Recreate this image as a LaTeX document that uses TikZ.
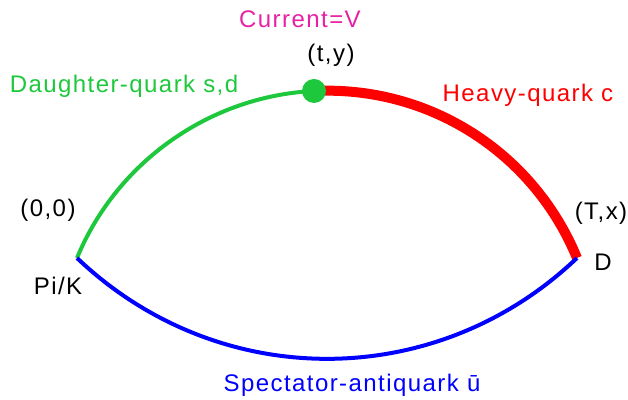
\documentclass[tikz,border=0pt]{standalone}
\usepackage{fontspec}
\setmainfont{Liberation Sans}[LetterSpace=6]
\definecolor{qgreen}{RGB}{30,200,60}
\definecolor{qpink}{RGB}{232,32,164}

\begin{document}
\begin{tikzpicture}[x=0.5pt, y=0.5pt, font=\fontsize{12}{14}\selectfont,
    lbl/.style={anchor=base, inner sep=0pt}]
    \useasboundingbox (0,0) rectangle (628,400);
    \coordinate (PK) at (77,142); \coordinate (V) at (314,309);
    \coordinate (D) at (577,142);
    \draw[qgreen, line width=2pt, bend left=32.4, looseness=0.92] (PK) to (V);
    \draw[red, line width=5pt, bend left=35.2, looseness=0.94] (V) to (D);
    \draw[blue, line width=2pt, bend right=43.6] (PK) to (D);
    \fill[qgreen] (V) circle[radius=6pt];
    \node[lbl, text=qpink] (cur) at (300,372) {Current=V};
    \node[lbl] (ty) at (331,338) {(t,y)};
    \node[lbl, text=qgreen] (dq) at (124,307) {Daughter-quark s,d};
    \node[lbl, text=red] (hq) at (528,298) {Heavy-quark c};
    \node[lbl] (orig) at (48,183) {(0,0)};
    \node[lbl] (pik) at (58,105) {Pi/K};
    \node[lbl] (Tx) at (601,180) {(T,x)};
    \node[lbl] (dm) at (603,129) {D};
    \node[lbl, text=blue] (sq) at (352,8) {Spectator-antiquark ū};
\end{tikzpicture}
\end{document}
